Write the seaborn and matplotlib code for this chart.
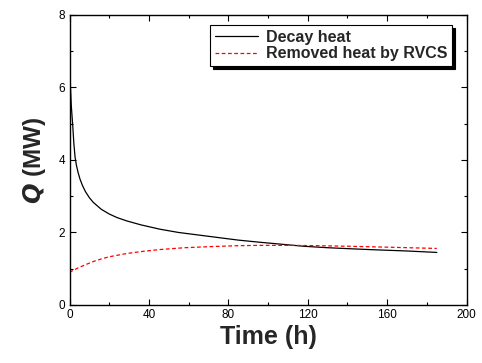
import matplotlib
matplotlib.use("Agg")
import matplotlib.pyplot as plt
import seaborn as sns
import pandas as pd
from matplotlib.ticker import MultipleLocator

# Data
decay_time = [0, 0.2, 0.5, 0.9, 1.6, 2.2, 2.8, 3.5, 4.3, 5.3, 6.5, 8, 10, 12, 16, 20,
              24, 28.8, 36, 45.6, 55, 65, 75, 85, 96, 108, 118, 130, 142, 155, 170, 185]
decay_q = [7.3, 6.6, 6.0, 5.5, 4.97, 4.45, 4.08, 3.85, 3.66, 3.47, 3.3, 3.13, 2.96,
           2.83, 2.64, 2.51, 2.41, 2.32, 2.21, 2.09, 2.0, 1.93, 1.86, 1.79, 1.73, 1.67,
           1.62, 1.58, 1.55, 1.52, 1.49, 1.45]
rvcs_time = [0, 2, 5, 8, 12, 16, 20, 28.8, 37, 45.6, 58, 70.8, 84, 96, 108, 120, 141,
             160, 185]
rvcs_q = [0.9, 0.96, 1.04, 1.11, 1.2, 1.27, 1.33, 1.42, 1.48, 1.53, 1.58, 1.61, 1.635,
          1.645, 1.645, 1.64, 1.62, 1.595, 1.56]
series_names = ["Decay heat", "Removed heat by RVCS"]

sns.set_theme(style="ticks")
plt.rcParams['font.family'] = ['Liberation Sans', 'DejaVu Sans']

fig = plt.figure(figsize=(4.82, 3.63), dpi=100)
ax = fig.add_axes([0.1442, 0.1598, 0.8238, 0.7989])

df_decay = pd.DataFrame({"Time": decay_time, "Q": decay_q})
df_rvcs = pd.DataFrame({"Time": rvcs_time, "Q": rvcs_q})

sns.lineplot(data=df_decay, x="Time", y="Q", ax=ax, color="black", linewidth=0.9,
             label=series_names[0])
sns.lineplot(data=df_rvcs, x="Time", y="Q", ax=ax, color="red", linewidth=0.9,
             linestyle=(0, (3, 2)), label=series_names[1])

ax.set_xlim(0, 200)
ax.set_ylim(0, 8)
ax.xaxis.set_major_locator(MultipleLocator(40))
ax.xaxis.set_minor_locator(MultipleLocator(20))
ax.yaxis.set_major_locator(MultipleLocator(2))
ax.yaxis.set_minor_locator(MultipleLocator(1))
ax.tick_params(which="both", direction="in", top=True, right=True, width=0.8,
               colors="black", labelsize=8.5, pad=3)
ax.tick_params(which="major", length=4)
ax.tick_params(which="minor", length=2.5)
for s in ax.spines.values():
    s.set_linewidth(1.0)
    s.set_color("black")

ax.set_xlabel("Time (h)", fontsize=18, fontweight="bold", labelpad=3)
ax.set_ylabel(r"$\bfit{Q}$ (MW)", fontsize=17.5, fontweight="bold", labelpad=8)

leg = ax.legend(loc="upper right", bbox_to_anchor=(0.964, 0.9655), borderaxespad=0,
                fancybox=False, edgecolor="black", framealpha=1,
                shadow={"color": "black", "alpha": 1},
                prop={"weight": "bold", "size": 11.5}, handlelength=2.7,
                borderpad=0.3, labelspacing=0.1, handletextpad=0.5)
leg.get_frame().set_linewidth(0.8)

fig.savefig("out.png", dpi=100)
